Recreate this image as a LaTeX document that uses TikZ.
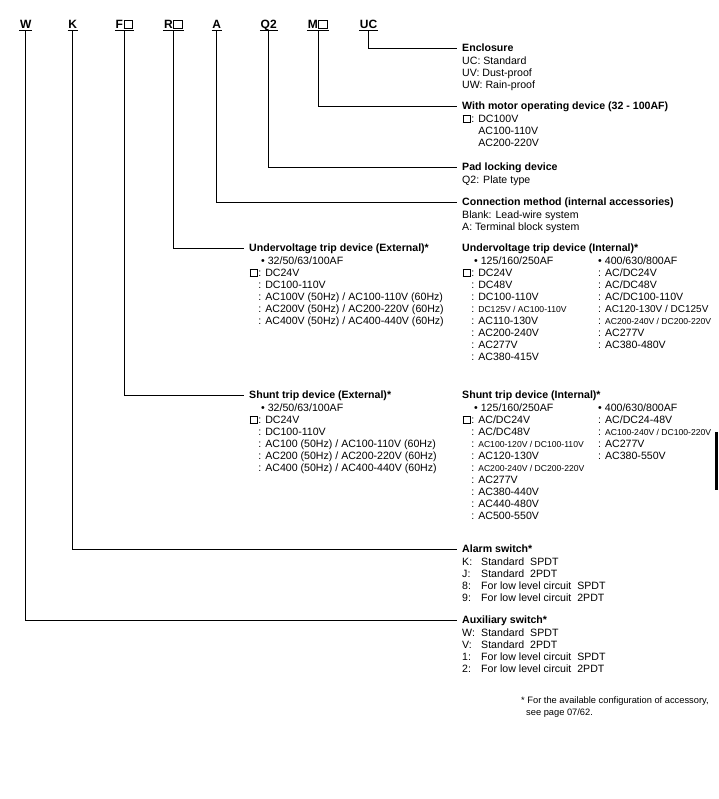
\documentclass[tikz,border=0pt]{standalone}
\usepackage{fontspec}
\setmainfont{Liberation Sans}
\usetikzlibrary{positioning}
\newcommand{\sqbox}{{\setlength{\fboxsep}{0pt}\setlength{\fboxrule}{0.075em}\kern0.05em\fbox{\rule{0pt}{0.62em}\hspace{0.62em}}\kern0.05em}}
\newcommand{\sm}[1]{{\fontsize{8.6}{12}\selectfont #1}}
\newcommand{\cln}{\hphantom{\sqbox}: }
\newcommand{\sw}[1]{\makebox[19pt][l]{#1}}
\newcommand{\gap}{\hspace{6pt}}

\tikzset{
  code/.style={font=\bfseries\fontsize{12}{14}\selectfont, inner xsep=0.6pt, inner ysep=2pt, text depth=0pt, anchor=base},
  head/.style={font=\bfseries\fontsize{10.6}{12}\selectfont, inner sep=0pt, text height=7.6pt, text depth=0pt, anchor=base west},
  item/.style={font=\fontsize{10.6}{12}\selectfont, inner sep=0pt, anchor=base west},
  wire/.style={line width=0.9pt, shorten >=5pt},
}

\begin{document}
\begin{tikzpicture}[x=1pt, y=-1pt]
  \useasboundingbox (0,0) rectangle (718,799);

  % ordering code
  \node[code] (cW) at (25.7,28.5) {W};
  \node[code] (cK) at (72.7,28.5) {K};
  \node[code] (cF) at (124.5,28.5) {F\sqbox};
  \node[code] (cR) at (173.7,28.5) {R\sqbox};
  \node[code] (cA) at (216.7,28.5) {A};
  \node[code] (cQ) at (268.7,28.5) {Q2};
  \node[code] (cM) at (318,28.5) {M\sqbox};
  \node[code] (cU) at (368.5,28.5) {UC};
  \foreach \n in {cW,cK,cF,cR,cA,cQ,cM,cU}
    \draw[line width=0.9pt] (\n.south west) -- (\n.south east);

  % right column
  \node[head] (encl) at (462,51.8) {Enclosure};
  \foreach \t [count=\i] in {UC: Standard, UV: Dust-proof, UW: Rain-proof}
    \node[item] (encl-\i) at ([yshift=-\i*12pt-0.5pt]encl.base west) {\t};

  \node[head] (motor) at (462,109.8) {With motor operating device (32 - 100AF)};
  \foreach \t [count=\i] in {\sqbox: DC100V, \hphantom{\sqbox: }AC100-110V, \hphantom{\sqbox: }AC200-220V}
    \node[item] (motor-\i) at ([yshift=-\i*12pt-0.5pt]motor.base west) {\t};

  \node[head] (pad) at (462,170.8) {Pad locking device};
  \node[item] (pad-1) at ([yshift=-12.5pt]pad.base west) {Q2: Plate type};

  \node[head] (conn) at (462,205.8) {Connection method (internal accessories)};
  \foreach \t [count=\i] in {Blank: Lead-wire system, A: Terminal block system}
    \node[item] (conn-\i) at ([yshift=-\i*12pt-0.5pt]conn.base west) {\t};

  % undervoltage trip
  \node[head] (uve) at (249,251.8) {Undervoltage trip device (External)*};
  \foreach \t [count=\i] in {\hspace*{12pt}• 32/50/63/100AF, \sqbox: DC24V, \cln DC100-110V,
      \cln AC100V (50Hz) / AC100-110V (60Hz), \cln AC200V (50Hz) / AC200-220V (60Hz),
      \cln AC400V (50Hz) / AC400-440V (60Hz)}
    \node[item] (uve-\i) at ([yshift=-\i*12pt-0.5pt]uve.base west) {\t};

  \node[head] (uvi) at (462,251.8) {Undervoltage trip device (Internal)*};
  \foreach \t [count=\i] in {\hspace*{12pt}• 125/160/250AF, \sqbox: DC24V, \cln DC48V, \cln DC100-110V,
      \cln\sm{DC125V / AC100-110V}, \cln AC110-130V, \cln AC200-240V, \cln AC277V, \cln AC380-415V}
    \node[item] (uvi-\i) at ([yshift=-\i*12pt-0.5pt]uvi.base west) {\t};
  \foreach \t [count=\i] in {• 400/630/800AF, : AC/DC24V, : AC/DC48V, : AC/DC100-110V,
      : {\fontsize{10}{12}\selectfont AC120-130V / DC125V}, : \sm{AC200-240V / DC200-220V}, : AC277V, : AC380-480V}
    \node[item] (uvj-\i) at ([xshift=136pt, yshift=-\i*12pt-0.5pt]uvi.base west) {\t};

  % shunt trip
  \node[head] (ste) at (249,398.8) {Shunt trip device (External)*};
  \foreach \t [count=\i] in {\hspace*{12pt}• 32/50/63/100AF, \sqbox: DC24V, \cln DC100-110V,
      \cln AC100 (50Hz) / AC100-110V (60Hz), \cln AC200 (50Hz) / AC200-220V (60Hz),
      \cln AC400 (50Hz) / AC400-440V (60Hz)}
    \node[item] (ste-\i) at ([yshift=-\i*12pt-0.5pt]ste.base west) {\t};

  \node[head] (sti) at (462,398.8) {Shunt trip device (Internal)*};
  \foreach \t [count=\i] in {\hspace*{12pt}• 125/160/250AF, \sqbox: AC/DC24V, \cln AC/DC48V,
      \cln\sm{AC100-120V / DC100-110V}, \cln AC120-130V, \cln\sm{AC200-240V / DC200-220V},
      \cln AC277V, \cln AC380-440V, \cln AC440-480V, \cln AC500-550V}
    \node[item] (sti-\i) at ([yshift=-\i*12pt-0.5pt]sti.base west) {\t};
  \foreach \t [count=\i] in {• 400/630/800AF, : AC/DC24-48V, : \sm{AC100-240V / DC100-220V},
      : AC277V, : AC380-550V}
    \node[item] (stj-\i) at ([xshift=136pt, yshift=-\i*12pt-0.5pt]sti.base west) {\t};

  % switches
  \node[head] (alarm) at (462,552.8) {Alarm switch*};
  \foreach \t [count=\i] in {\sw{K:}Standard\gap SPDT, \sw{J:}Standard\gap 2PDT,
      \sw{8:}For low level circuit\gap SPDT, \sw{9:}For low level circuit\gap 2PDT}
    \node[item] (alarm-\i) at ([yshift=-\i*12pt-0.5pt]alarm.base west) {\t};

  \node[head] (aux) at (462,623.8) {Auxiliary switch*};
  \foreach \t [count=\i] in {\sw{W:}Standard\gap SPDT, \sw{V:}Standard\gap 2PDT,
      \sw{1:}For low level circuit\gap SPDT, \sw{2:}For low level circuit\gap 2PDT}
    \node[item] (aux-\i) at ([yshift=-\i*12pt-0.5pt]aux.base west) {\t};

  % footnote
  \node[item, font=\fontsize{9.3}{12}\selectfont] (note) at (521,703) {* For the available configuration of accessory,};
  \node[item, font=\fontsize{9.3}{12}\selectfont] (note-2) at ([yshift=-12pt]note.base west) {\hspace*{5pt}see page 07/62.};

  % leader lines
  \foreach \a/\b in {cU/encl, cM/motor, cQ/pad, cA/conn, cR/uve, cF/ste, cK/alarm, cW/aux}
    \draw[wire] (\a.south) |- (\b.west);

  % page edge mark
  \fill (715,432) rectangle (718,490);
\end{tikzpicture}
\end{document}
